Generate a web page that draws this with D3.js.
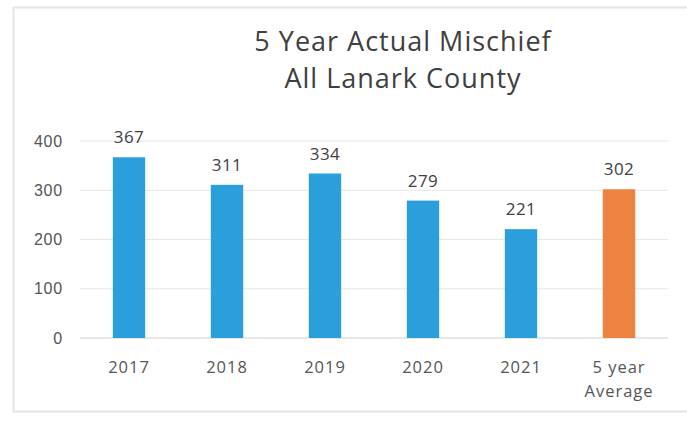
<!DOCTYPE html>
<html><head><meta charset="utf-8">
<script src="https://cdn.jsdelivr.net/npm/d3@7/dist/d3.min.js"></script>
<style>body{margin:0;background:#fff;}svg{display:block;font-family:"Open Sans",sans-serif;}</style>
</head><body>
<svg id="c" width="687" height="421"></svg>
<script>
const categories = ["2017","2018","2019","2020","2021","5 year\nAverage"];
const values = [367,311,334,279,221,302];
const barColors = ["#2B9FDC","#2B9FDC","#2B9FDC","#2B9FDC","#2B9FDC","#EE8240"];
const yTicks = [0,100,200,300,400];
const titleLines = ["5 Year Actual Mischief","All Lanark County"];

(function(){
const svg = d3.select("#c");
svg.append("rect").attr("x",13.5).attr("y",7.5).attr("width",690).attr("height",404)
  .attr("fill","#fff").attr("stroke","#e4e4e4").attr("stroke-width",2);

const pl=80, pr=668, pt=141, pb=338;
const x = d3.scaleBand().domain(categories).range([pl,pr]).paddingInner(0.67).paddingOuter(0.335);
const y = d3.scaleLinear().domain([0,400]).range([pb,pt]);

const grid = svg.append("g");
grid.selectAll("line").data(yTicks).join("line")
  .attr("x1",pl).attr("x2",pr).attr("y1",d=>y(d)).attr("y2",d=>y(d))
  .attr("stroke",d=>d===0?"#d0d0d0":"#e6e6e6").attr("stroke-width",1);

const yAxis = svg.append("g").attr("transform",`translate(${pl},0)`)
  .call(d3.axisLeft(y).tickValues(yTicks).tickSize(0).tickPadding(17));
yAxis.select(".domain").remove();
yAxis.selectAll("text").attr("font-size",16).attr("fill","#555").attr("font-family",null)
  .attr("letter-spacing",0.8);

svg.append("g").selectAll("text.v").data(values).join("text")
  .attr("x",(d,i)=>x(categories[i])+x.bandwidth()/2).attr("y",d=>y(d)-14)
  .attr("text-anchor","middle").attr("font-size",17).attr("letter-spacing",0.5)
  .attr("fill","#404040").text(d=>d);

svg.append("g").selectAll("rect").data(values).join("rect")
  .attr("x",(d,i)=>x(categories[i])).attr("width",x.bandwidth())
  .attr("y",d=>y(d)).attr("height",d=>y(0)-y(d))
  .attr("fill",(d,i)=>barColors[i]);

const xl = svg.append("g").selectAll("text").data(categories).join("text")
  .attr("x",d=>x(d)+x.bandwidth()/2).attr("y",pb+35)
  .attr("text-anchor","middle").attr("font-size",16.5).attr("letter-spacing",1)
  .attr("fill","#555");
xl.each(function(d){
  const t=d3.select(this);
  d.split("\n").forEach((s,i)=>t.append("tspan").attr("x",t.attr("x")).attr("dy",i?24:0).text(s));
});

svg.append("g").selectAll("text").data(titleLines).join("text")
  .attr("x",403).attr("y",(d,i)=>51+i*37).attr("text-anchor","middle")
  .attr("font-size",27).attr("letter-spacing",1).attr("fill","#404040").text(d=>d);
})();
</script>
</body></html>
